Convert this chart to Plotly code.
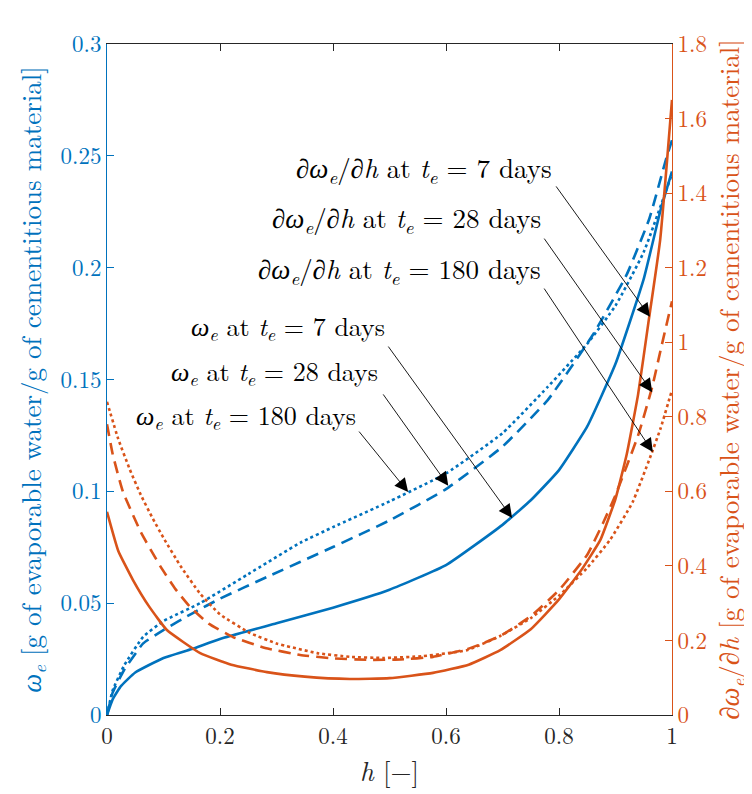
import plotly.graph_objects as go

BLUE = "#0072BD"
ORANGE = "#D95319"
DARK = "#262626"
TICKFONT = "Latin Modern Roman"
MATHFONT = "Latin Modern Roman"

# ---- data: omega_e (left axis) ----
h_w7 = [0, 0.01, 0.025, 0.05, 0.1, 0.15, 0.2, 0.3, 0.4, 0.5, 0.6, 0.7, 0.75, 0.8, 0.85, 0.9, 0.95, 0.98, 1.0]
w7 = [0, 0.007, 0.013, 0.019, 0.0255, 0.0295, 0.034, 0.041, 0.048, 0.056, 0.067, 0.085, 0.096, 0.1095, 0.129, 0.157, 0.195, 0.226, 0.243]

h_w28 = [0, 0.01, 0.03, 0.064, 0.1, 0.152, 0.2, 0.283, 0.4, 0.5, 0.6, 0.7, 0.78, 0.86, 0.92, 0.96, 0.99, 1.0]
w28 = [0, 0.01, 0.02, 0.032, 0.038, 0.0456, 0.052, 0.0617, 0.0751, 0.087, 0.101, 0.12, 0.1408, 0.170, 0.197, 0.222, 0.249, 0.257]

h_w180 = [0, 0.01, 0.03, 0.064, 0.1, 0.165, 0.25, 0.342, 0.4, 0.5, 0.6, 0.7, 0.78, 0.85, 0.9, 0.95, 1.0]
w180 = [0, 0.011, 0.022, 0.035, 0.042, 0.050, 0.063, 0.077, 0.084, 0.0955, 0.108, 0.126, 0.1467, 0.166, 0.183, 0.207, 0.242]

# ---- data: d omega_e / dh (right axis) ----
h_d7 = [0, 0.02, 0.046, 0.075, 0.106, 0.165, 0.22, 0.283, 0.35, 0.43, 0.5, 0.577, 0.64, 0.696, 0.75, 0.8, 0.84, 0.873, 0.9, 0.92, 0.94, 0.958, 0.979, 1.0]
d7 = [0.545, 0.44, 0.362, 0.29, 0.228, 0.166, 0.135, 0.115, 0.103, 0.0966, 0.099, 0.113, 0.135, 0.174, 0.23, 0.31, 0.39, 0.469, 0.58, 0.70, 0.86, 1.05, 1.274, 1.65]

h_d28 = [0, 0.01, 0.028, 0.06, 0.094, 0.12, 0.147, 0.18, 0.223, 0.28, 0.342, 0.4, 0.46, 0.52, 0.577, 0.64, 0.696, 0.75, 0.8, 0.85, 0.878, 0.9, 0.94, 0.965, 0.98, 1.0]
d28 = [0.78, 0.70, 0.60, 0.49, 0.40, 0.34, 0.29, 0.245, 0.209, 0.18, 0.161, 0.152, 0.148, 0.149, 0.156, 0.178, 0.212, 0.265, 0.335, 0.43, 0.515, 0.59, 0.75, 0.88, 0.98, 1.11]

h_d180 = [0, 0.02, 0.04, 0.06, 0.08, 0.1, 0.13, 0.165, 0.2, 0.253, 0.3, 0.372, 0.43, 0.49, 0.56, 0.637, 0.696, 0.75, 0.8, 0.85, 0.89, 0.93, 0.961, 0.98, 1.0]
d180 = [0.84, 0.74, 0.66, 0.59, 0.53, 0.475, 0.40, 0.325, 0.27, 0.22, 0.192, 0.166, 0.156, 0.153, 0.158, 0.174, 0.212, 0.26, 0.32, 0.395, 0.469, 0.57, 0.69, 0.77, 0.872]

# ---- tick labels ----
x_ticks = [0, 0.2, 0.4, 0.6, 0.8, 1]
yl_ticks = [0, 0.05, 0.1, 0.15, 0.2, 0.25, 0.3]
yr_ticks = [0, 0.2, 0.4, 0.6, 0.8, 1, 1.2, 1.4, 1.6, 1.8]

# ---- annotation labels ----
lab_d7 = "∂<i>ω</i><sub><i>e</i></sub>/∂<i>h</i> at <i>t</i><sub><i>e</i></sub> = 7 days"
lab_d28 = "∂<i>ω</i><sub><i>e</i></sub>/∂<i>h</i> at <i>t</i><sub><i>e</i></sub> = 28 days"
lab_d180 = "∂<i>ω</i><sub><i>e</i></sub>/∂<i>h</i> at <i>t</i><sub><i>e</i></sub> = 180 days"
lab_w7 = "<i>ω</i><sub><i>e</i></sub> at <i>t</i><sub><i>e</i></sub> = 7 days"
lab_w28 = "<i>ω</i><sub><i>e</i></sub> at <i>t</i><sub><i>e</i></sub> = 28 days"
lab_w180 = "<i>ω</i><sub><i>e</i></sub> at <i>t</i><sub><i>e</i></sub> = 180 days"

# (text, text right x, text y, arrow tail x, tail y, tip x, tip y)
d_labels = [  # right-axis units
    (lab_d7, 0.792, 1.467, 0.793, 1.422, 0.961, 1.068),
    (lab_d28, 0.772, 1.333, 0.772, 1.282, 0.965, 0.866),
    (lab_d180, 0.772, 1.194, 0.772, 1.148, 0.966, 0.7055),
]
w_labels = [  # left-axis units
    (lab_w7, 0.496, 0.1735, 0.496, 0.1654, 0.717, 0.0881),
    (lab_w28, 0.483, 0.1537, 0.487, 0.1440, 0.604, 0.1025),
    (lab_w180, 0.444, 0.1340, 0.444, 0.1274, 0.533, 0.0997),
]

fig = go.Figure()

def add_line(x, y, color, dash, axis):
    fig.add_trace(go.Scatter(x=x, y=y, mode="lines", yaxis=axis,
                             line=dict(color=color, width=2.6, dash=dash, shape="spline", smoothing=0.4),
                             showlegend=False, hoverinfo="skip"))

add_line(h_w7, w7, BLUE, "solid", "y")
add_line(h_w28, w28, BLUE, "12px,7px", "y")
add_line(h_w180, w180, BLUE, "dot", "y")
add_line(h_d7, d7, ORANGE, "solid", "y2")
add_line(h_d28, d28, ORANGE, "12px,7px", "y2")
add_line(h_d180, d180, ORANGE, "dot", "y2")

ann = []
for group, yref, fsize in ((d_labels, "y2", 27), (w_labels, "y", 26)):
    for txt, tx, ty, ax, ay, x, y in group:
        ann.append(dict(x=tx, y=ty, xref="x", yref=yref, text=txt, showarrow=False,
                        xanchor="right", yanchor="middle",
                        font=dict(family=MATHFONT, size=fsize, color="black")))
        ann.append(dict(x=x, y=y, ax=ax, ay=ay, xref="x", yref=yref, axref="x", ayref=yref,
                        text="", showarrow=True, arrowhead=2, arrowsize=3, arrowwidth=0.9,
                        arrowcolor="black", standoff=0, startstandoff=0))

fig.update_layout(
    width=744, height=786,
    margin=dict(l=99, r=80, t=36, b=79),
    paper_bgcolor="white", plot_bgcolor="white",
    font=dict(family=MATHFONT, size=22, color=DARK),
    annotations=ann,
    xaxis=dict(range=[0, 1], tickvals=x_ticks, ticks="inside", ticklen=7, tickcolor=DARK,
               showline=True, linecolor=DARK, linewidth=1, mirror="ticks",
               showgrid=False, zeroline=False,
               tickfont=dict(family=TICKFONT, size=23, color=DARK),
               title=dict(text="<i>h</i> [−]", font=dict(family=MATHFONT, size=27, color=DARK), standoff=12)),
    yaxis=dict(range=[0, 0.3], tickvals=yl_ticks, ticks="inside", ticklen=7, tickcolor=BLUE,
               showline=True, linecolor=BLUE, linewidth=1, showgrid=False, zeroline=False,
               tickfont=dict(family=TICKFONT, size=23, color=BLUE),
               title=dict(text="<i>ω</i><sub><i>e</i></sub> [g of evaporable water/g of cementitious material]",
                          font=dict(family=MATHFONT, size=27, color=BLUE), standoff=11)),
    yaxis2=dict(range=[0, 1.8], tickvals=yr_ticks, overlaying="y", side="right",
                ticks="inside", ticklen=7, tickcolor=ORANGE,
                showline=True, linecolor=ORANGE, linewidth=1, showgrid=False, zeroline=False,
                tickfont=dict(family=TICKFONT, size=23, color=ORANGE),
                title=dict(text="∂<i>ω</i><sub><i>e</i></sub>/∂<i>h</i> [g of evaporable water/g of cementitious material]",
                           font=dict(family=MATHFONT, size=27, color=ORANGE), standoff=14)),
)

fig.write_html("out.html")
